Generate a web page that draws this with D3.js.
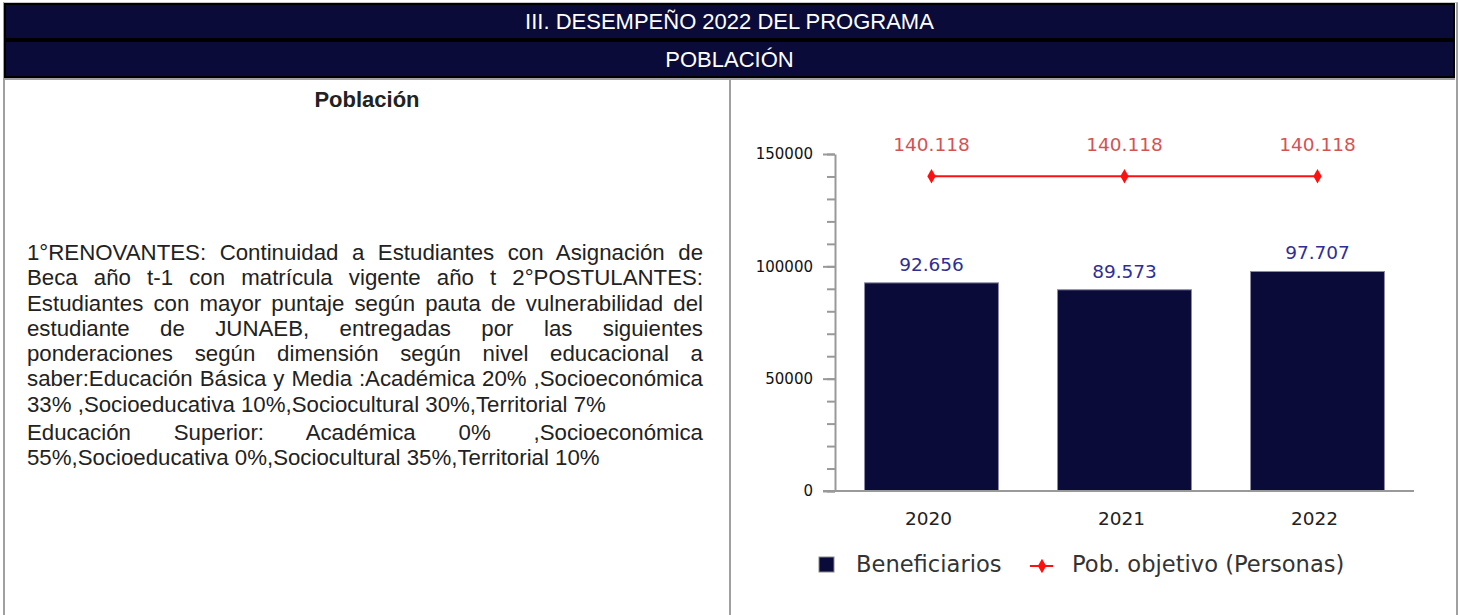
<!DOCTYPE html>
<html>
<head>
<meta charset="utf-8">
<script src="https://cdn.jsdelivr.net/npm/d3@7"></script>
<style>
  body { margin: 0; background: #fff; width: 1458px; height: 615px; overflow: hidden; position: relative; font-family: "Liberation Sans", Arial, sans-serif; }
  .frame { position: absolute; left: 3px; top: 2px; width: 1451px; height: 640px; border-left: 2px solid #a0a0a0; border-right: 2px solid #a0a0a0; border-top: 1px solid #c8c8c8; }
  .hdr { position: absolute; left: 4px; width: 1447px; background: #0b0b3a; border: 2px solid #000; color: #fff; text-align: center; font-size: 22px; }
  .h1 { top: 3px; height: 33px; line-height: 33px; }
  .h2 { top: 40px; height: 34px; line-height: 36px; border-bottom: 2px solid #000; }
  .rule { position: absolute; left: 4px; top: 78px; width: 1451px; height: 2px; background: #a0a0a0; }
  .divider { position: absolute; left: 729px; top: 80px; width: 2px; height: 540px; background: #a0a0a0; }
  .ptitle { position: absolute; left: 5px; width: 724px; top: 87px; text-align: center; font-weight: bold; font-size: 22px; color: #222; }
  .ptext { position: absolute; left: 27px; width: 676px; top: 240px; text-align: justify; font-size: 22.25px; line-height: 25.3px; color: #222; }
  .ptext p { margin: 0 0 3px 0; }
  svg { position: absolute; left: 0; top: 0; }
</style>
</head>
<body>
<div class="frame"></div>
<div class="hdr h1">III. DESEMPEÑO 2022 DEL PROGRAMA</div>
<div class="hdr h2">POBLACIÓN</div>
<div class="rule"></div>
<div class="divider"></div>
<div class="ptitle">Población</div>
<div class="ptext">
  <p>1°RENOVANTES: Continuidad a Estudiantes con Asignación de Beca año t-1 con matrícula vigente año t 2°POSTULANTES: Estudiantes con mayor puntaje según pauta de vulnerabilidad del estudiante de JUNAEB, entregadas por las siguientes ponderaciones según dimensión según nivel educacional a saber:Educación Básica y Media :Académica 20% ,Socioeconómica 33% ,Socioeducativa 10%,Sociocultural 30%,Territorial 7%</p>
  <p>Educación Superior: Académica 0% ,Socioeconómica 55%,Socioeducativa 0%,Sociocultural 35%,Territorial 10%</p>
</div>
<svg id="chart" width="1458" height="615"></svg>
<script>
// data
const years = ["2020", "2021", "2022"];
const beneficiarios = [92656, 89573, 97707];
const pobObjetivo = [140118, 140118, 140118];
const yTicks = [0, 50000, 100000, 150000];
const seriesNames = ["Beneficiarios", "Pob. objetivo (Personas)"];

const navy = "#0b0b3a";
const fmt = (v) => d3.format(",")(v).replace(/,/g, ".");

const svg = d3.select("#chart");

// plot area
const x0 = 835, x1 = 1414, yTop = 154, yBot = 491;

const xScale = d3.scaleBand().domain(years).range([x0, x1]).paddingInner(0.306).paddingOuter(0.153);
const yScale = d3.scaleLinear().domain([0, 150000]).range([yBot, yTop]);

// minor ticks every 10000
const minor = svg.append("g").attr("transform", `translate(${x0},0)`)
  .call(d3.axisLeft(yScale).tickValues(d3.range(0, 150001, 10000)).tickSize(8).tickFormat(""));
minor.select(".domain").remove();
minor.selectAll("line").attr("stroke", "#999").attr("stroke-width", 2);

// major ticks + labels
const yAxisG = svg.append("g").attr("transform", `translate(${x0},0)`)
  .call(d3.axisLeft(yScale).tickValues(yTicks).tickSize(12).tickSizeOuter(0).tickPadding(10).tickFormat(d3.format("d")));
yAxisG.select(".domain").attr("stroke", "#999").attr("stroke-width", 2);
yAxisG.selectAll("line").attr("stroke", "#999").attr("stroke-width", 2);
yAxisG.selectAll("text").attr("font-family", "DejaVu Sans").attr("font-size", 15).attr("fill", "#111");

// bars
svg.append("g").selectAll("rect").data(years).join("rect")
  .attr("x", (d) => xScale(d))
  .attr("y", (d, i) => yScale(beneficiarios[i]))
  .attr("width", xScale.bandwidth())
  .attr("height", (d, i) => yBot - yScale(beneficiarios[i]))
  .attr("fill", navy)
  .attr("stroke", "#8a8aa8")
  .attr("stroke-width", 1);

// x axis
const xAxisG = svg.append("g").attr("transform", `translate(0,${yBot})`)
  .call(d3.axisBottom(xScale).tickSize(0).tickPadding(21));
xAxisG.select(".domain").attr("d", `M${x0 - 12},0H${x1}`).attr("stroke", "#999").attr("stroke-width", 2);
xAxisG.selectAll("text").attr("font-family", "DejaVu Sans").attr("font-size", 18.5).attr("fill", "#222").attr("dx", -3);

// bar value labels
svg.append("g").selectAll("text").data(years).join("text")
  .attr("x", (d) => xScale(d) + xScale.bandwidth() / 2)
  .attr("y", (d, i) => yScale(beneficiarios[i]) - 12)
  .attr("text-anchor", "middle")
  .attr("font-family", "DejaVu Sans").attr("font-size", 18.5)
  .attr("fill", "#2e2e96")
  .text((d, i) => fmt(beneficiarios[i]));

// target line
const cx = (d) => xScale(d) + xScale.bandwidth() / 2;
const line = d3.line().x((d) => cx(d)).y((d, i) => yScale(pobObjetivo[i]));
svg.append("path").attr("d", line(years)).attr("fill", "none").attr("stroke", "#ff1010").attr("stroke-width", 2);

const diamond = d3.symbol().type(d3.symbolDiamond).size(60);
svg.append("g").selectAll("path").data(years).join("path")
  .attr("d", diamond)
  .attr("transform", (d, i) => `translate(${cx(d)},${yScale(pobObjetivo[i])})`)
  .attr("fill", "#ff1010");

svg.append("g").selectAll("text").data(years).join("text")
  .attr("x", cx)
  .attr("y", (d, i) => yScale(pobObjetivo[i]) - 25)
  .attr("text-anchor", "middle")
  .attr("font-family", "DejaVu Sans").attr("font-size", 18.5)
  .attr("fill", "#d65252")
  .text((d, i) => fmt(pobObjetivo[i]));

// legend
const lg = svg.append("g").attr("font-family", "DejaVu Sans").attr("font-size", 22.6).attr("fill", "#333");
lg.append("rect").attr("x", 819).attr("y", 557).attr("width", 15).attr("height", 15)
  .attr("fill", navy).attr("stroke", "#888").attr("stroke-width", 1);
lg.append("text").attr("x", 856).attr("y", 572).text(seriesNames[0]);
lg.append("line").attr("x1", 1030).attr("x2", 1053).attr("y1", 566).attr("y2", 566)
  .attr("stroke", "#ff1010").attr("stroke-width", 2);
lg.append("path").attr("d", diamond).attr("transform", "translate(1042,566)").attr("fill", "#ff1010");
lg.append("text").attr("x", 1072).attr("y", 572).text(seriesNames[1]);
</script>
</body>
</html>
